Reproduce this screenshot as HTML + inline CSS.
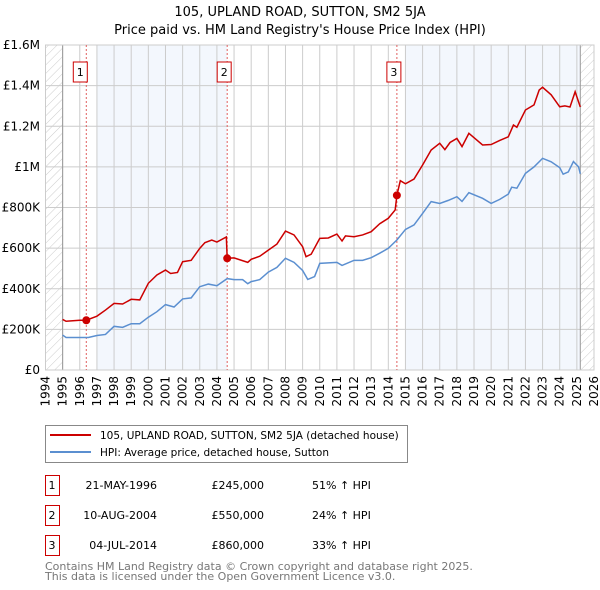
<!DOCTYPE html>
<html><head><meta charset="utf-8"><style>
body{margin:0;background:#fff;font-family:"DejaVu Sans","Liberation Sans",sans-serif}
svg{display:block}
</style></head><body>
<svg id="chart" width="600" height="590" xmlns="http://www.w3.org/2000/svg" font-family="DejaVu Sans, Liberation Sans, sans-serif">
<defs><pattern id="hatch" width="6" height="6" patternUnits="userSpaceOnUse" patternTransform="rotate(45)"><line x1="0" y1="0" x2="0" y2="6" stroke="#ccc" stroke-width="1"/></pattern></defs>
<text x="300" y="16" text-anchor="middle" font-size="13" fill="#000">105, UPLAND ROAD, SUTTON, SM2 5JA</text>
<text x="300" y="34" text-anchor="middle" font-size="13" fill="#000">Price paid vs. HM Land Registry's House Price Index (HPI)</text>
<g id="plot"></g>
<g>
<rect x="45.5" y="425.5" width="362" height="37" fill="#fff" stroke="#888"/>
<line x1="50" y1="435" x2="91" y2="435" stroke="#cc0000" stroke-width="2"/>
<text x="100" y="439" font-size="10.5">105, UPLAND ROAD, SUTTON, SM2 5JA (detached house)</text>
<line x1="50" y1="452" x2="91" y2="452" stroke="#5b8fd0" stroke-width="2"/>
<text x="100" y="456" font-size="10.5">HPI: Average price, detached house, Sutton</text>
</g>
<g id="table" font-size="11"></g>
<text x="45" y="570" font-size="11" fill="#777">Contains HM Land Registry data © Crown copyright and database right 2025.</text>
<text x="45" y="580" font-size="11" fill="#777">This data is licensed under the Open Government Licence v3.0.</text>
</svg>
<script>
const hpiYears=[1995,1995.2,1996,1996.5,1997,1997.5,1998,1998.5,1999,1999.5,2000,2000.5,2001,2001.5,2002,2002.5,2003,2003.5,2004,2004.6,2005,2005.5,2005.8,2006,2006.5,2007,2007.5,2008,2008.5,2009,2009.3,2009.7,2010,2011,2011.3,2012,2012.5,2013,2013.5,2014,2014.5,2015,2015.5,2016,2016.5,2017,2017.5,2018,2018.3,2018.7,2019.5,2020,2020.5,2021,2021.2,2021.5,2022,2022.5,2023,2023.5,2024,2024.2,2024.5,2024.8,2025.1,2025.2];
const hpiValues=[172,160,160,160,170,175,215,210,228,228,260,287,322,310,350,355,410,423,415,450,445,445,425,435,445,482,505,550,530,490,446,460,525,530,515,540,540,553,575,599,640,692,714,771,829,820,835,853,830,873,845,820,840,866,900,895,968,1000,1042,1025,996,964,975,1026,1000,966];
const priceYears=[1995,1995.2,1996,1996.38,1997,1997.5,1998,1998.5,1999,1999.5,2000,2000.5,2001,2001.3,2001.7,2002,2002.5,2003,2003.3,2003.7,2004,2004.55,2004.6,2005,2005.8,2006,2006.5,2007,2007.5,2008,2008.5,2009,2009.2,2009.5,2010,2010.5,2011,2011.3,2011.5,2012,2012.5,2013,2013.5,2014,2014.4,2014.5,2014.7,2015,2015.5,2016,2016.5,2017,2017.3,2017.6,2018,2018.3,2018.7,2019.5,2020,2020.5,2021,2021.3,2021.5,2022,2022.5,2022.8,2023,2023.5,2024,2024.3,2024.6,2024.9,2025.2];
const priceValues=[249,240,245,245,265,295,328,325,348,345,427,468,492,475,480,533,540,599,627,640,630,655,550,552,530,545,560,590,620,684,665,607,558,570,648,650,669,635,660,656,665,681,720,747,788,860,932,917,940,1009,1083,1116,1085,1120,1140,1100,1165,1108,1110,1130,1148,1206,1195,1280,1305,1378,1392,1355,1296,1300,1295,1370,1295];
const saleYears=[1996.38,2004.6,2014.5];
const saleValues=[245,550,860];
const saleLabels=["1","2","3"];
const saleDates=["21-MAY-1996","10-AUG-2004","04-JUL-2014"];
const salePrices=["£245,000","£550,000","£860,000"];
const saleHpi=["51% ↑ HPI","24% ↑ HPI","33% ↑ HPI"];
const yTicks=[0,200,400,600,800,1000,1200,1400,1600];
const yTickLabels=["£0","£200K","£400K","£600K","£800K","£1M","£1.2M","£1.4M","£1.6M"];
const xTicks=[1994,1995,1996,1997,1998,1999,2000,2001,2002,2003,2004,2005,2006,2007,2008,2009,2010,2011,2012,2013,2014,2015,2016,2017,2018,2019,2020,2021,2022,2023,2024,2025,2026];

const NS="http://www.w3.org/2000/svg";
const L=45.5,R=594,T=45,B=370;
const x=y=>L+(y-1994)/(2026-1994)*(R-L);
const yv=v=>B-v/1600*(B-T);
const plot=document.getElementById('plot');
function mk(tag,attrs,parent){const e=document.createElementNS(NS,tag);for(const k in attrs)e.setAttribute(k,attrs[k]);(parent||plot).appendChild(e);return e;}
let e;
e=mk('rect',{x:x(1997),y:T,width:x(2004.6)-x(1997),height:B-T,fill:'#eef3fc',opacity:0.7});


e=mk('rect',{x:x(2015),y:T,width:x(2025.2)-x(2015),height:B-T,fill:'#eef3fc',opacity:0.7});


xTicks.forEach((t,i)=>{
 const g=mk('line',{x1:x(t),x2:x(t),y1:T,y2:B,stroke:'#ccc','stroke-width':1});
 
 
 const tx=mk('text',{x:0,y:0,'font-size':12,'text-anchor':'end',transform:`translate(${x(t)+4},${B+6}) rotate(-90)`});
 tx.textContent=t;
 
 
});
yTicks.forEach((t,i)=>{
 const g=mk('line',{x1:L,x2:R,y1:yv(t),y2:yv(t),stroke:'#ccc','stroke-width':1});
 
 
 const tx=mk('text',{x:40,y:yv(t)+4,'font-size':12,'text-anchor':'end'});
 tx.textContent=yTickLabels[i];
 
 
});
e=mk('rect',{x:L,y:T,width:x(1995)-L,height:B-T,fill:'url(#hatch)'});


e=mk('rect',{x:x(2025.2),y:T,width:R-x(2025.2),height:B-T,fill:'url(#hatch)'});


mk('line',{x1:x(1995),x2:x(1995),y1:T,y2:B,stroke:'#999'});
mk('line',{x1:x(2025.2),x2:x(2025.2),y1:T,y2:B,stroke:'#999'});
mk('rect',{x:L,y:T,width:R-L,height:B-T,fill:'none',stroke:'#ccc'});
saleYears.forEach((s,i)=>{
 const l=mk('line',{x1:x(s),x2:x(s),y1:T,y2:B,stroke:'#e06060','stroke-width':1,'stroke-dasharray':'2,2'});
 
 
 const bx=mk('rect',{x:x(s)-10-(i==0?3:0),y:62,width:14,height:20,fill:'#fff',stroke:'#cc0000'});
 
 
 const tx=mk('text',{x:x(s)-3-(i==0?3:0),y:76,'font-size':11,'text-anchor':'middle'});
 tx.textContent=saleLabels[i];
 
 
});
const hp=mk('polyline',{points:hpiYears.map((t,i)=>x(t)+','+yv(hpiValues[i])).join(' '),fill:'none',stroke:'#5b8fd0','stroke-width':1.5});


const pp=mk('polyline',{points:priceYears.map((t,i)=>x(t)+','+yv(priceValues[i])).join(' '),fill:'none',stroke:'#cc0000','stroke-width':1.5});


saleYears.forEach((s,i)=>{
 const c=mk('circle',{cx:x(s),cy:yv(saleValues[i]),r:4,fill:'#cc0000'});
 
 
});
const tb=document.getElementById('table');
saleLabels.forEach((lab,i)=>{
 const y0=475+i*30;
 const r=mk('rect',{x:45.5,y:y0+0.5,width:14,height:20,fill:'#fff',stroke:'#cc0000'},tb);
 
 
 const cells=[[52,'middle',lab],[157,'end',saleDates[i]],[264,'end',salePrices[i]],[312,'start',saleHpi[i]]];
 cells.forEach(c=>{
  const t=mk('text',{x:c[0],y:y0+14,'text-anchor':c[1],'font-size':11},tb);
  t.textContent=c[2];
  
  
 });
});
</script>
</body></html>
